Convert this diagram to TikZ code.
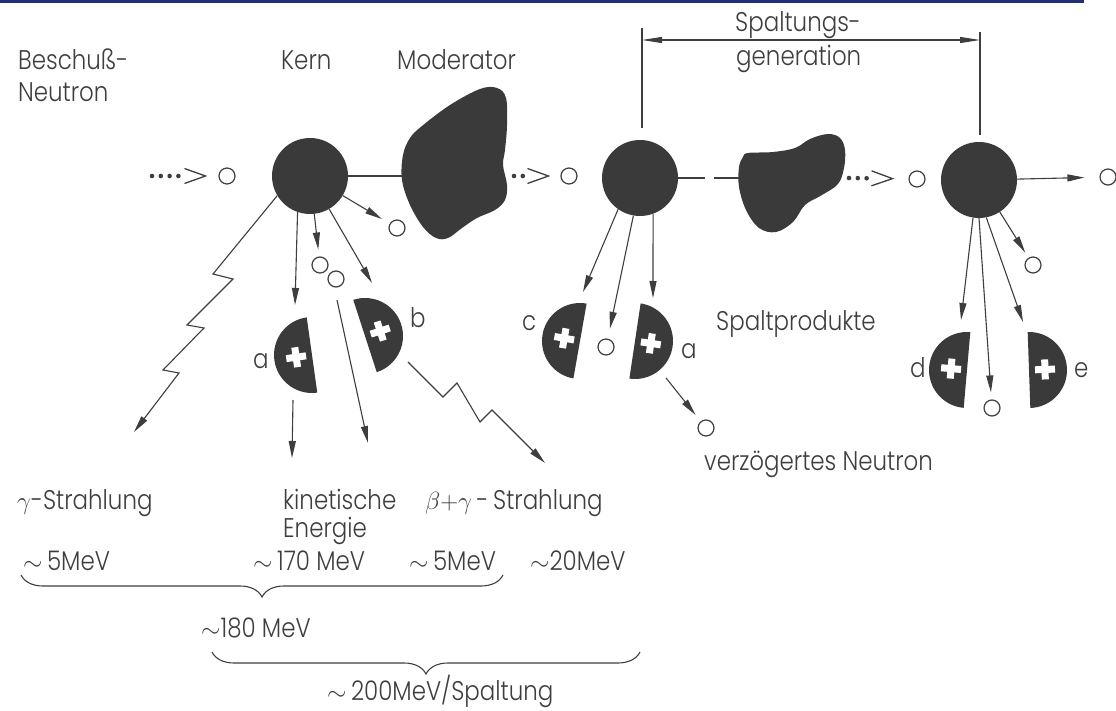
\documentclass[tikz,border=0pt]{standalone}
\usepackage{amsmath,amssymb}
\usepackage{fontspec}
\setmainfont{Poppins}[UprightFont=* Light, FakeStretch=0.85]
\usetikzlibrary{arrows.meta,decorations.pathreplacing}
\pgfdeclarelayer{bg}
\pgfsetlayers{bg,main}
\definecolor{ink}{RGB}{62,62,62}
\definecolor{nuc}{RGB}{58,58,58}
\definecolor{barblue}{RGB}{33,47,122}
\tikzset{
  txt/.style={text=ink, font=\fontsize{27}{32}\selectfont, inner sep=0pt, anchor=base west},
  kern/.style={circle, fill=nuc, minimum size=76pt, inner sep=0pt},
  neutron/.style={circle, draw=ink, fill=white, line width=1.2pt, minimum size=16pt, inner sep=0pt},
  ln/.style={draw=ink, line width=1.1pt},
  arr/.style={ln, -{Triangle[length=17pt,width=7pt]}},
  chev/.style={draw=ink, line width=4.6pt, line cap=round, -{Straight Barb[length=21pt,width=15pt,line width=1.3pt]}},
  dots4/.style={chev, dash pattern=on 0pt off 8.8pt on 0pt off 8.8pt on 0pt off 8.8pt on 0pt off 200pt},
  dots3/.style={chev, dash pattern=on 0pt off 8.8pt on 0pt off 8.8pt on 0pt off 200pt},
  dots2/.style={chev, dash pattern=on 0pt off 8.8pt on 0pt off 200pt},
  brc/.style={ln, decorate, decoration={brace, amplitude=22pt}},
  frag/.pic={
    \fill[nuc] (0,-38) arc[start angle=-90, end angle=-270, radius=38] -- cycle;
    \fill[white] (-26,-3.5) rectangle (-6,3.5);
    \fill[white] (-19.5,-10) rectangle (-12.5,10);
  },
}
\begin{document}
\begin{tikzpicture}[x=1pt,y=-1pt]
\useasboundingbox (0,0) rectangle (1116,711);
\fill[barblue] (0,0) rectangle (1084,3.5);

\node (t0) [txt] at (18,70) {Beschuß-};
\node (t1) [txt] at (18,102) {Neutron};
\node (t2) [txt] at (281,70) {Kern};
\node (t3) [txt] at (397,70) {Moderator};
\node (t4) [txt] at (735,32) {Spaltungs-};
\node (t5) [txt] at (736,66) {generation};
\node (t6) [txt] at (716,330) {Spaltprodukte};
\node (t7) [txt] at (704,470) {verzögertes Neutron};
\node (t8) [txt] at (17,509) {$\gamma$-Strahlung};
\node (t9) [txt] at (283,509) {kinetische};
\node (t10) [txt] at (283,537) {Energie};
\node (t11) [txt] at (425,509) {$\beta{+}\gamma$\,-\,Strahlung};
\node (t12) [txt] at (23,570) {$\sim$\,5MeV};
\node (t13) [txt] at (253,570) {$\sim$\,170 MeV};
\node (t14) [txt] at (409,570) {$\sim$\,5MeV};
\node (t15) [txt] at (530,570) {$\sim$20MeV};
\node (t16) [txt] at (201,637) {$\sim$180 MeV};
\node (t17) [txt] at (327,700) {$\sim$\,200MeV/Spaltung};

\fill[nuc] plot[smooth cycle, tension=0.6] coordinates {(480,89) (497,88) (506,98) (507,125)
  (505,150) (503,165) (507,185) (505,200) (495,210) (477,218) (462,228) (448,238) (436,238)
  (423,227) (410,205) (402,180) (403,155) (410,138) (422,126) (450,105)};
\fill[nuc] plot[smooth cycle, tension=0.6] coordinates {(748,153) (773,152) (795,148) (810,139)
  (828,134) (840,138) (845,150) (844,168) (838,184) (822,195) (805,205) (793,222) (776,232)
  (759,228) (746,210) (739,187) (739,167) (743,157)};

\node (k1) [kern] at (310,176) {};
\node (k2) [kern] at (640,178) {};
\node (k3) [kern] at (979,180) {};

\node (n0) [neutron] at (227,176) {};
\node (n1) [neutron] at (397,228) {};
\node (n2) [neutron] at (320,265) {};
\node (n3) [neutron] at (336,279) {};
\node (n4) [neutron] at (569,176) {};
\node (n5) [neutron] at (606,347) {};
\node (n6) [neutron] at (706,428) {};
\node (n7) [neutron] at (917,179) {};
\node (n8) [neutron] at (1108,177) {};
\node (n9) [neutron] at (1033,265) {};
\node (n10) [neutron] at (992,408) {};

\pic [rotate=8] at (312,355) {frag};
\pic [rotate=198] at (365,336) {frag};
\pic [rotate=-10] at (580,341) {frag};
\pic [rotate=171.5] at (635,341) {frag};
\pic [rotate=-5] at (967,370) {frag};
\pic [rotate=182] at (1029,370) {frag};

\node (la) [txt] at (253,368) {a};
\node (lb) [txt] at (410,327) {b};
\node (lc) [txt] at (522,330) {c};
\node (la2) [txt] at (681,358) {a};
\node (ld) [txt] at (910,377) {d};
\node (le) [txt] at (1074,377) {e};

\coordinate (in0) at (152,176);
\coordinate (m1w) at (402,176);
\coordinate (m1e) at (514,176);
\coordinate (m2w) at (740,178);
\coordinate (m2e) at (849,178);
\coordinate (g1) at (642,28);
\coordinate (g1b) at (642,128);
\coordinate (g2) at (980,32);
\coordinate (g2b) at (980,135);
\coordinate (d1) at (642,40);
\coordinate (d2) at (980,40);
\coordinate (p1) at (295,305);
\coordinate (p2) at (372,283);
\coordinate (p3) at (337,300);
\coordinate (p4) at (368,443);
\coordinate (p5) at (293,400);
\coordinate (p6) at (292,458);
\coordinate (p7) at (408,362);
\coordinate (p8) at (583,292);
\coordinate (p9) at (653,298);
\coordinate (p10) at (666,378);
\coordinate (p11) at (961,320);
\coordinate (p12) at (1023,322);

\begin{pgfonlayer}{bg}
        \draw (in0) edge [dots4, shorten >=11pt] (n0);
        \draw (m1e) edge [dots2, shorten >=10pt] (n4);
        \draw (m2e) edge [dots3, shorten >=14pt] (n7);
        \draw (k1) edge [ln] (m1w);
        \draw (k2) edge [ln, dash pattern=on 27pt off 9pt on 60pt] (m2w);
        \draw (k3) edge [arr, shorten >=15pt] (n8);
        \draw (g1) edge [ln] (g1b);
        \draw (g2) edge [ln] (g2b);
        \draw (d1) edge [ln, {Triangle[length=20pt,width=6pt]}-{Triangle[length=20pt,width=6pt]}] (d2);
        \draw (k1.-109) edge [arr] (p1);
        \draw (k1) edge [arr, shorten >=7pt] (n2);
        \draw (k1) edge [arr] (p2);
        \draw (k1) edge [arr, shorten >=9pt] (n1);
        \draw (p3) edge [arr] (p4);
        \draw (p5) edge [arr] (p6);
        \draw [arr] (k1.211) -- (213,274) -- (233,279) -- (187,325) -- (204,328)
                -- (163,370) -- (179,373) -- (134,432);
        \draw [arr] (p7) -- (443,397) -- (457,383) -- (480,422) -- (492,410) -- (545,463);
        \draw (k2.-125) edge [arr] (p8);
        \draw (k2.-100) edge [arr, shorten >=10pt] (n5);
        \draw (k2.-70) edge [arr] (p9);
        \draw (p10) edge [arr, shorten >=8pt] (n6);
        \draw (k3.-99) edge [arr] (p11);
        \draw (k3.-90) edge [arr, shorten >=7pt] (n10);
        \draw (k3.-79) edge [arr] (p12);
        \draw (k3.-57) edge [arr, shorten >=6pt] (n9);
        \draw [brc] (503,575) -- (21,575);
        \draw [brc] (640,652) -- (212,652);
\end{pgfonlayer}
\end{tikzpicture}
\end{document}
